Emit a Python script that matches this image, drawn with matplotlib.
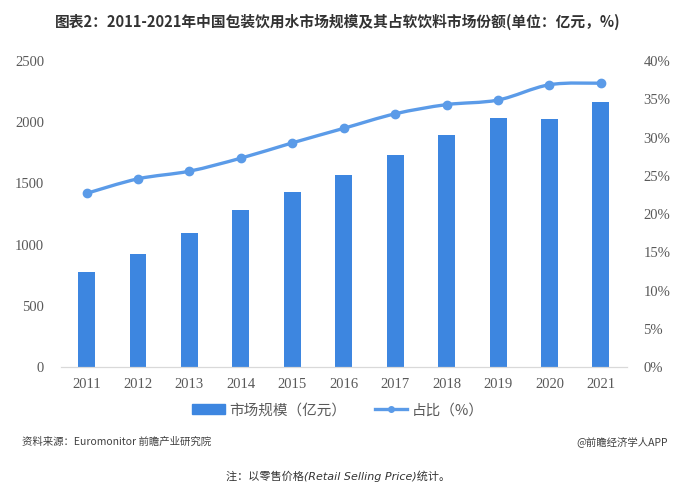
import numpy as np
import matplotlib
matplotlib.use("Agg")
import matplotlib.pyplot as plt
from matplotlib.path import Path
from matplotlib.patches import PathPatch
from matplotlib.lines import Line2D
from matplotlib.patches import Patch

plt.rcParams['font.family'] = ['Noto Sans CJK SC', 'DejaVu Sans']

# 数据
years = ['2011', '2012', '2013', '2014', '2015', '2016', '2017', '2018', '2019', '2020', '2021']
market_size = [776, 923, 1095, 1283, 1430, 1569, 1732, 1895, 2034, 2026, 2165]
share_pct = [22.7, 24.6, 25.6, 27.3, 29.3, 31.2, 33.1, 34.3, 34.9, 36.9, 37.1]

bar_color = '#3D86E0'
line_color = '#5B9BE8'
tick_font = 'Liberation Serif'

fig = plt.figure(figsize=(6.76, 4.90), dpi=100)
ax = fig.add_axes([0.09, 0.251, 0.837, 0.6245])
ax2 = ax.twinx()

x = np.arange(len(years))
ax.bar(x, market_size, width=0.33, color=bar_color, zorder=2)

# 平滑折线 (Catmull-Rom -> 三次贝塞尔，只用于绘制)
pts = np.column_stack([x, share_pct])
verts = [tuple(pts[0])]
codes = [Path.MOVETO]
for i in range(len(pts) - 1):
    p0 = pts[i - 1] if i > 0 else pts[i]
    p1 = pts[i]
    p2 = pts[i + 1]
    p3 = pts[i + 2] if i + 2 < len(pts) else pts[i + 1]
    c1 = p1 + (p2 - p0) / 6.0
    c2 = p2 - (p3 - p1) / 6.0
    verts += [tuple(c1), tuple(c2), tuple(p2)]
    codes += [Path.CURVE4] * 3
ax2.add_patch(PathPatch(Path(verts, codes), fill=False, edgecolor=line_color,
                        lw=2.4, capstyle='round', zorder=3))
ax2.plot(x, share_pct, ls='none', marker='o', ms=6, color=line_color, zorder=4)

ax.set_xlim(-0.5, len(years) - 0.5)
ax.set_ylim(0, 2500)
ax.set_yticks(range(0, 2501, 500))
ax2.set_ylim(0, 40)
ax2.set_yticks(range(0, 41, 5))
ax2.set_yticklabels([f'{v}%' for v in range(0, 41, 5)])
ax.set_xticks(x)
ax.set_xticklabels(years)

for a in (ax, ax2):
    for s in ('top', 'left', 'right'):
        a.spines[s].set_visible(False)
    a.spines['bottom'].set_color('#D9D9D9')
    a.tick_params(length=0, labelsize=10.5, labelcolor='#595959')
    for lab in a.get_yticklabels() + a.get_xticklabels():
        lab.set_fontfamily(tick_font)
ax.tick_params(axis='y', pad=12)
ax.tick_params(axis='x', pad=8)
ax2.tick_params(axis='y', pad=12)

fig.text(0.5, 0.955, '图表2：2011-2021年中国包装饮用水市场规模及其占软饮料市场份额(单位：亿元，%)',
         ha='center', va='center', fontsize=10.6, fontweight='bold', color='#333333')

handles = [Patch(color=bar_color),
           Line2D([0], [0], color=line_color, lw=2.4, marker='o', ms=4)]
fig.legend(handles, ['市场规模（亿元）', '占比（%）'], loc='center', bbox_to_anchor=(0.5, 0.163),
           ncol=2, frameon=False, fontsize=10.5, handlelength=2.2, columnspacing=2.0,
           handletextpad=0.3, labelcolor='#595959')

fig.text(0.033, 0.099, '资料来源：Euromonitor 前瞻产业研究院', ha='left', va='center',
         fontsize=7.5, color='#404040')
fig.text(0.988, 0.099, '@前瞻经济学人APP', ha='right', va='center',
         fontsize=7.5, color='#404040')
fig.text(0.5, 0.028, '注：以零售价格(Retail Selling Price)统计。', ha='center', va='center',
         fontsize=8, style='italic', color='#333333',
         family=['DejaVu Sans', 'Noto Sans CJK SC'])

fig.savefig('out.png', dpi=100)
